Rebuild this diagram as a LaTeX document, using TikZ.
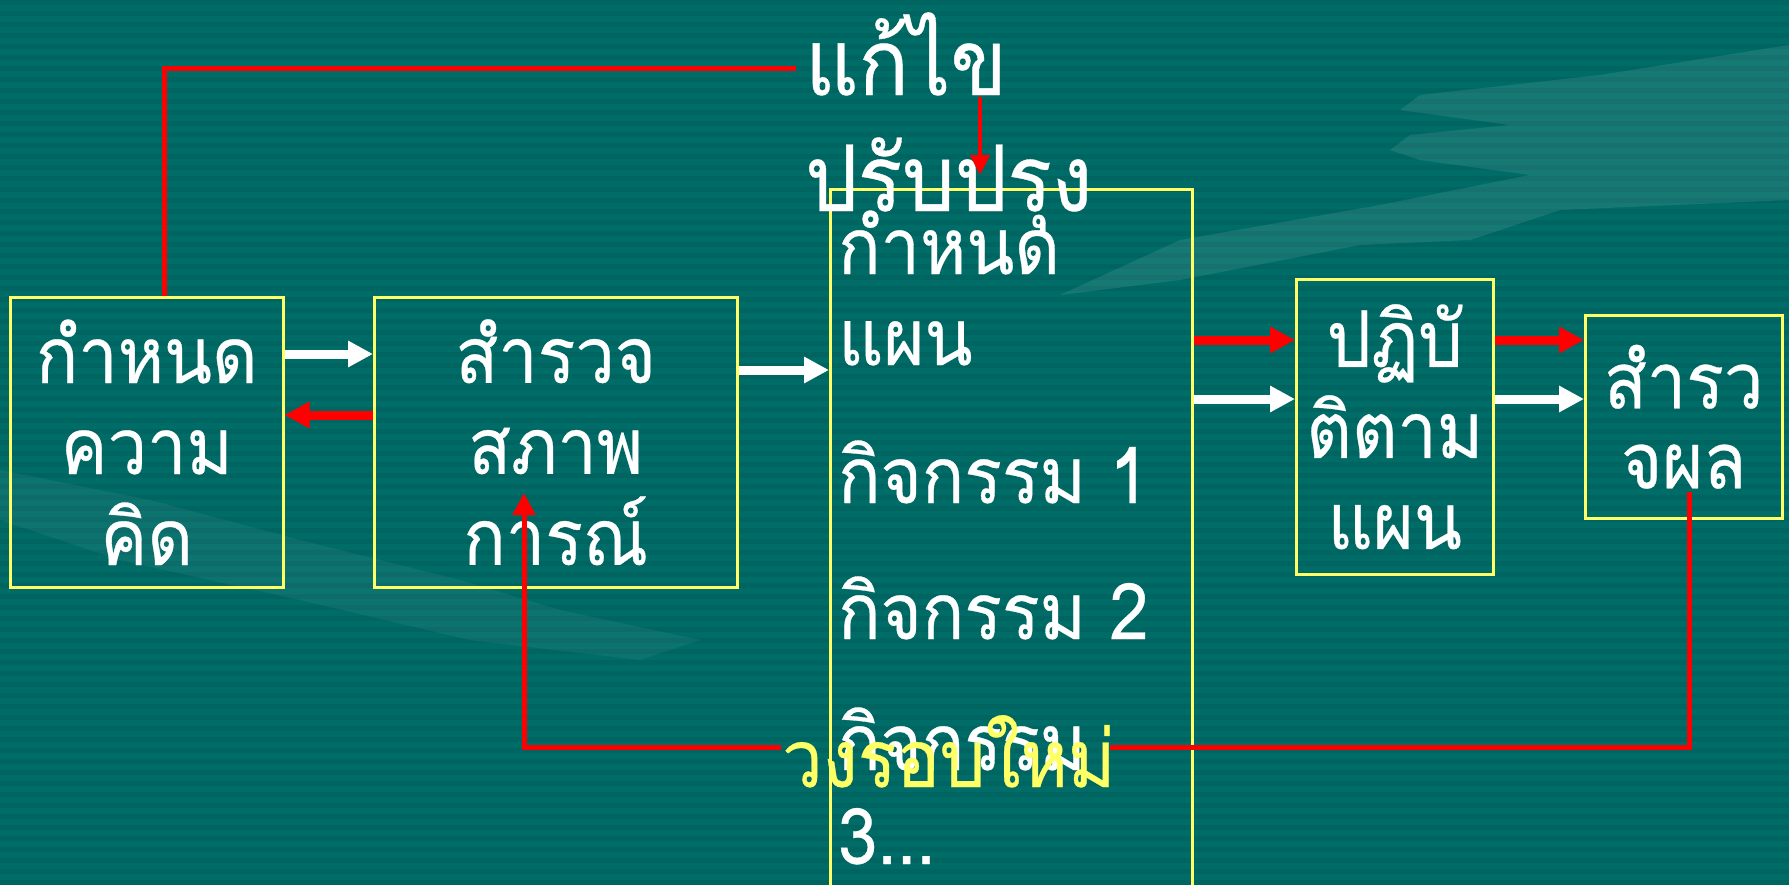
\documentclass[tikz,border=0pt]{standalone}
\usepackage{fontspec}
\newfontfamily\thai[Script=Thai,FakeStretch=0.9,FakeBold=0.4]{Loma}
\usetikzlibrary{arrows.meta}
\definecolor{bg}{RGB}{0,108,103}
\definecolor{stripe}{RGB}{0,101,97}
\definecolor{boxyellow}{RGB}{255,255,102}
\definecolor{redline}{RGB}{255,0,0}
\begin{document}
\begin{tikzpicture}[x=1pt,y=-1pt,
  thaitext/.style={font=\thai\fontsize{78}{91}\selectfont, text=white, inner sep=0pt},
  bigtext/.style={font=\thai\fontsize{92}{110}\selectfont, text=white, inner sep=0pt},
  boxnode/.style={draw=boxyellow, line width=2.5pt, anchor=north west, inner sep=0pt,
     text=white, align=center, font=\thai\fontsize{78}{91}\selectfont},
  wharrow/.style={draw=white, line width=9pt, -{Triangle[length=25pt,width=25pt]}},
  rdarrow/.style={draw=redline, line width=9pt, -{Triangle[length=25pt,width=25pt]}},
  fbline/.style={draw=redline, line width=5pt},
  fbarrow/.style={draw=redline, line width=5pt, -{Triangle[length=22pt,width=22pt]}}
]
\useasboundingbox (0,0) rectangle (1789,884);
% background
\fill[bg] (0,0) rectangle (1789,884);
\foreach \yy in {0,11,...,880} \fill[stripe] (0,\yy) rectangle (1789,\yy+5);
% faint hand and pen
\fill[white, opacity=0.09] (1060,295) -- (1180,240) -- (1380,205) -- (1530,175) -- (1420,160) -- (1390,150) -- (1410,135) -- (1510,125) -- (1400,110) -- (1420,95) -- (1600,75) -- (1789,45) -- (1789,200) -- (1560,210) -- (1470,240) -- (1360,245) -- (1180,280) -- cycle;
\fill[white, opacity=0.05] (0,470) -- (150,500) -- (300,540) -- (460,580) -- (560,610) -- (700,640) -- (640,660) -- (470,640) -- (300,600) -- (120,560) -- (0,520) -- cycle;
% boxes
\node[boxnode, minimum width=273pt, minimum height=290pt] (A) at (9,296) {กำหนด\\ความ\\คิด};
\node[boxnode, minimum width=363pt, minimum height=290pt] (B) at (373,296) {สำรวจ\\สภาพ\\การณ์};
\node[boxnode, minimum width=362pt, minimum height=720pt] (C) at (829,188) {};
\node[boxnode, minimum width=197pt, minimum height=295pt] (D) at (1295,278) {ปฏิบั\\ติตาม\\แผน};
\node[boxnode, minimum width=197pt, minimum height=203pt, font=\thai\fontsize{78}{80}\selectfont] (E) at (1584,314) {สำรว\\จผล};
% plan text
\node[thaitext, anchor=base west] (c1) at (838,274) {กำหนด};
\node[thaitext, anchor=base west] (c2) at (838,365) {แผน};
\node[thaitext, anchor=base west] (c3) at (838,503) {กิจกรรม 1};
\node[thaitext, anchor=base west] (c4) at (838,639) {กิจกรรม 2};
\node[thaitext, anchor=base west] (c5) at (838,770) {กิจกรรม};
\node[thaitext, anchor=base west] (c6) at (838,864) {3...};
% top label
\node[bigtext, anchor=base west] (fix1) at (805,95) {แก้ไข};
\node[bigtext, anchor=base west] (fix2) at (805,211) {ปรับปรุง};
% loop label
\node[thaitext, text=boxyellow, font=\thai\fontsize{80}{91}\selectfont, anchor=base west] (loop) at (782,787) {วงรอบใหม่};
% arrows between boxes
\draw[wharrow] (A.east |- 0,354) -- (B.west |- 0,354);
\draw[rdarrow] (B.west |- 0,415) -- (A.east |- 0,415);
\draw[wharrow] (B.east |- 0,370) -- (C.west |- 0,370);
\draw[rdarrow] (C.east |- 0,340) -- (D.west |- 0,340);
\draw[wharrow] (C.east |- 0,399) -- (D.west |- 0,399);
\draw[rdarrow] (D.east |- 0,340) -- (E.west |- 0,340);
\draw[wharrow] (D.east |- 0,399) -- (E.west |- 0,399);
% feedback lines
\coordinate (topend) at (796,68);
\draw[fbline] (A.north -| 164,0) -- (164,68) -- (topend);
\coordinate (dnstart) at (980,97);
\coordinate (dnend) at (980,175);
\draw[redline, line width=4.5pt, -{Triangle[length=20pt,width=19pt]}] (dnstart) -- (dnend);
\coordinate (estart) at (1689,492);
\coordinate (loopR) at (1110,747);
\coordinate (loopL) at (781,747);
\coordinate (bend) at (524,747);
\coordinate (bup) at (524,493);
\draw[fbline] (estart) -- (1689,747) -- (loopR);
\draw[fbarrow] (loopL) -- (bend) -- (bup);
\end{tikzpicture}
\end{document}
